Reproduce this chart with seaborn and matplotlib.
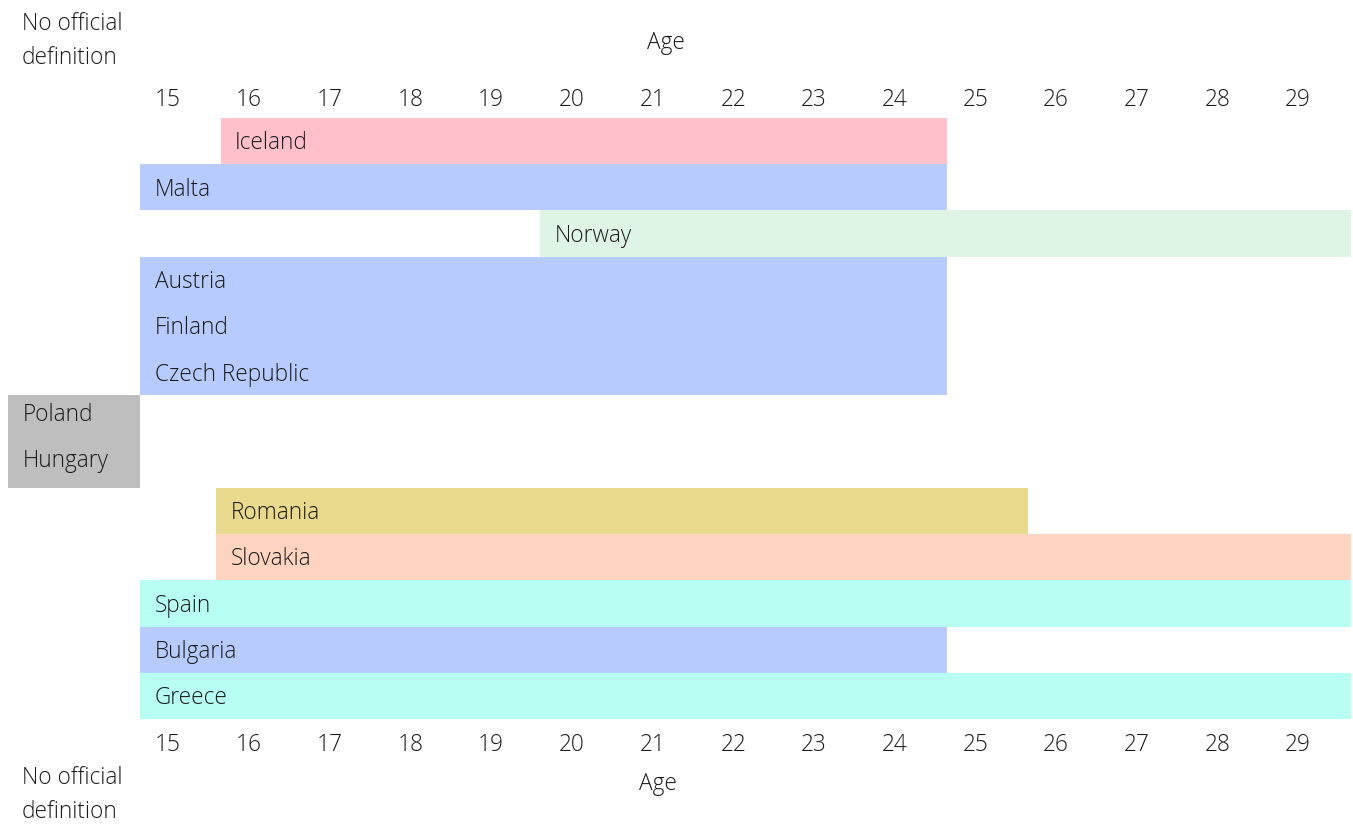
import matplotlib
matplotlib.use("Agg")
import matplotlib.pyplot as plt
import seaborn as sns

# Youth age definitions by country (age range covered, inclusive)
countries = ["Iceland", "Malta", "Norway", "Austria", "Finland", "Czech Republic",
             "Poland", "Hungary", "Romania", "Slovakia", "Spain", "Bulgaria", "Greece"]
age_from = [16, 15, 19.96, 15, 15, 15, None, None, 15.94, 15.94, 15, 15, 15]
age_to = [24, 24, 29, 24, 24, 24, None, None, 25, 29, 29, 24, 29]
bar_colors = ["#FFC0CB", "#B7CBFE", "#DEF4E5", "#B7CBFE", "#B7CBFE", "#B7CBFE",
              "#BEBEBE", "#BEBEBE", "#E8D98D", "#FED3C0", "#B7FEF3", "#B7CBFE", "#B7FEF3"]
ages = list(range(15, 30))
axis_title = "Age"
no_def_label = "No official\ndefinition"

sns.set_theme(style="white")
plt.rcParams["font.family"] = ["Open Sans", "DejaVu Sans"]

W, H = 1353, 825
year_px = 80.7
row_px = 46.23
x0_px, y0_px = 140, 118           # left edge of age 15, top of first row
no_def_left = 15 - (x0_px - 8) / year_px   # grey "no definition" column start

fig = plt.figure(figsize=(W / 100, H / 100), dpi=100)
ax = fig.add_axes([0, 0, 1, 1])
ax.set_xlim(15 - x0_px / year_px, 15 + (W - x0_px) / year_px)
ax.set_ylim((H - y0_px) / row_px, -y0_px / row_px)
ax.axis("off")

fs = 16.3
txt_kw = dict(fontsize=fs, color="#1a1a1a", fontweight="light")

for i, (name, a, b, c) in enumerate(zip(countries, age_from, age_to, bar_colors)):
    if a is None:
        left, width = no_def_left, 15 - no_def_left
        ty = i + 0.43
    else:
        left, width = a, b + 1 - a
        ty = i + 0.55
    ax.barh(i + 0.5, width, left=left, height=1.0, color=c, linewidth=0)
    ax.text(left + 0.18, ty, name, ha="left", va="center", **txt_kw)

# age scale above and below the bars
for a in ages:
    ax.text(a + 0.35, -0.4, str(a), ha="center", va="center", **txt_kw)
    ax.text(a + 0.35, len(countries) + 0.56, str(a), ha="center", va="center", **txt_kw)

fig.text(666 / W, 1 - 43 / H, axis_title, ha="center", va="center", **txt_kw)
fig.text(658 / W, 1 - 784 / H, axis_title, ha="center", va="center", **txt_kw)
fig.text(22 / W, 1 - 41 / H, no_def_label, ha="left", va="center", linespacing=1.55, **txt_kw)
fig.text(22 / W, 1 - 795 / H, no_def_label, ha="left", va="center", linespacing=1.5, **txt_kw)

fig.savefig("out.png", dpi=100, facecolor="white")
